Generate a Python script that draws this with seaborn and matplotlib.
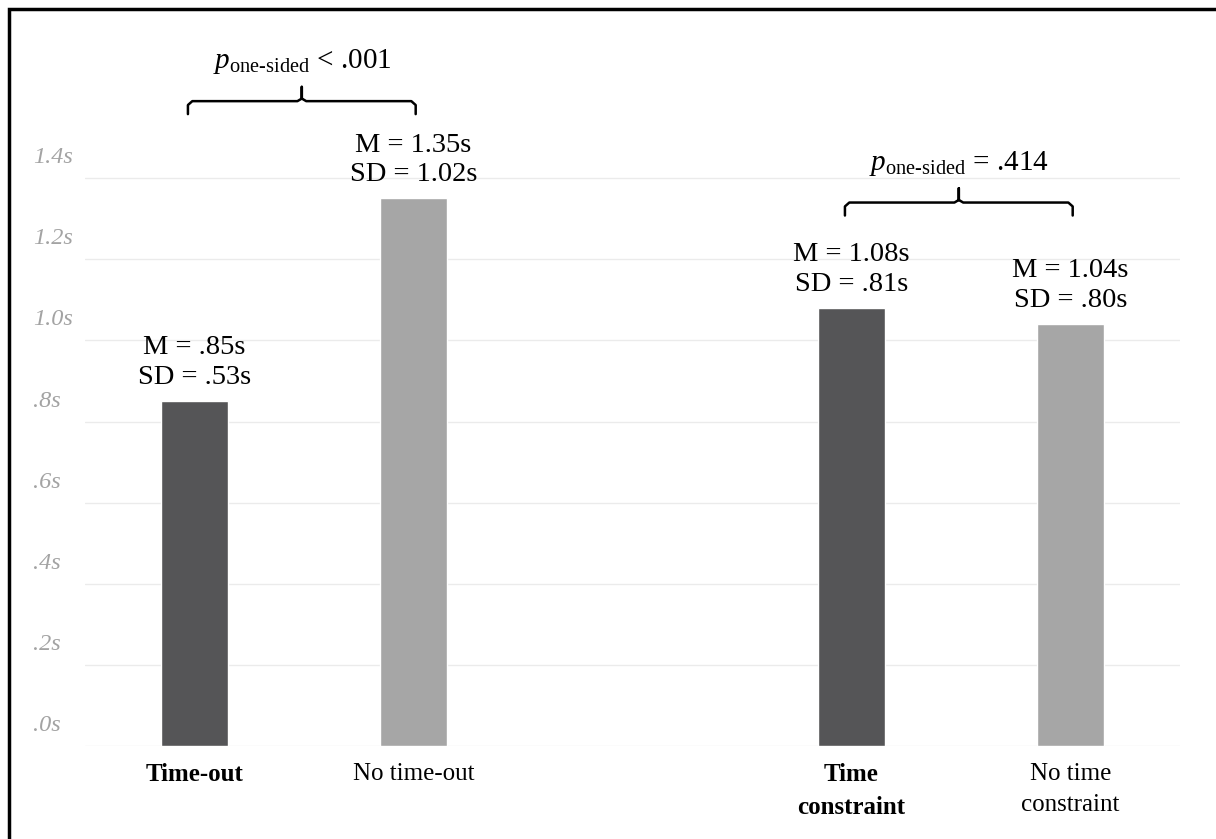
import numpy as np
import pandas as pd
import matplotlib
import matplotlib.pyplot as plt
import matplotlib.transforms as mtransforms
from matplotlib.patches import Rectangle
import seaborn as sns

sns.set_style('white')
plt.rcParams['font.family'] = ['Liberation Serif', 'DejaVu Serif']
plt.rcParams['text.color'] = 'black'
plt.rcParams['xtick.color'] = 'black'
matplotlib.rcParams['mathtext.fontset'] = 'custom'
matplotlib.rcParams['mathtext.rm'] = 'Liberation Serif'
matplotlib.rcParams['mathtext.it'] = 'Liberation Serif:italic'

# data
conditions = ['Time-out', 'No time-out', 'Time\nconstraint', 'No time\nconstraint']
means = [0.85, 1.35, 1.08, 1.04]
sds = [0.53, 1.02, 0.81, 0.80]
kind = ['treat', 'control', 'treat', 'control']
p_labels = [r'$p_{\mathrm{one\text{-}sided}}$ < .001', r'$p_{\mathrm{one\text{-}sided}}$ = .414']
tick_vals = [0, 0.2, 0.4, 0.6, 0.8, 1.0, 1.2, 1.4]
tick_labels = ['.0s', '.2s', '.4s', '.6s', '.8s', '1.0s', '1.2s', '1.4s']

spacer = ' '
order = conditions[:2] + [spacer] + conditions[2:]
df = pd.DataFrame({'condition': conditions, 'mean': means, 'sd': sds, 'kind': kind})

fig = plt.figure(figsize=(12.16, 8.39), dpi=100)
ax = fig.add_axes([0.0699, 0.1108, 0.9005, 0.846])

sns.barplot(data=df, x='condition', y='mean', hue='kind', order=order,
            palette={'treat': '#555557', 'control': '#a6a6a6'},
            width=0.31, dodge=False, errorbar=None, legend=False, ax=ax)

ax.set_xlim(-0.5, 4.5)
ax.set_ylim(0, 1.75)
ax.set_xlabel('')
ax.set_ylabel('')
sns.despine(ax=ax, left=True, bottom=True, top=True, right=True)

# grid
ax.set_yticks(tick_vals)
ax.set_yticklabels(tick_labels, fontsize=17.5, style='italic', color='#a3a3a3')
ax.grid(axis='y', color='#ebebeb', linewidth=1)
ax.set_axisbelow(True)
ax.tick_params(axis='y', length=0, pad=0)
for lab in ax.get_yticklabels():
    lab.set_horizontalalignment('left')
    lab.set_transform(lab.get_transform() + mtransforms.ScaledTranslation(-0.52, 0.23, fig.dpi_scale_trans))

# x tick labels
ax.tick_params(axis='x', length=0, pad=12)
for lab in ax.get_xticklabels():
    lab.set_fontsize(18)
    lab.set_linespacing(1.55)
    if lab.get_text() in ('Time-out', 'Time\nconstraint'):
        lab.set_fontweight('bold')

# value labels
pos = {c: order.index(c) for c in conditions}
for c, m, s in zip(conditions, means, sds):
    ms = ('%.2f' % m).lstrip('0')
    ss = ('%.2f' % s).lstrip('0')
    ax.annotate('M = %ss\nSD = %ss' % (ms, ss), (pos[c], m), xytext=(0, 8),
                textcoords='offset points', ha='center', va='bottom',
                fontsize=20.5, linespacing=1.25)


# braces
def brace(x0, x1, y, label):
    h = 0.032
    xm = (x0 + x1) / 2
    r = 0.02
    xs = [x0, x0, x0 + r, xm - r, xm, xm, xm, xm + r, x1 - r, x1, x1]
    ys = [y - h, y - h * 0.3, y, y, y + h * 0.2, y + h * 1.1, y + h * 0.2, y, y, y - h * 0.3, y - h]
    ax.plot(xs, ys, color='black', lw=1.8, solid_capstyle='round', clip_on=False)
    ax.text(xm, y + h * 1.9, label, ha='center', va='bottom', fontsize=21)


brace(pos[conditions[0]] - 0.03, pos[conditions[1]] + 0.01, means[1] + 0.24, p_labels[0])
brace(pos[conditions[2]] - 0.03, pos[conditions[3]] + 0.01, means[2] + 0.26, p_labels[1])

# frame around the figure
fig.patches.append(Rectangle((9 / 1216, -0.2), 1.2, 1.2 - 9 / 839, transform=fig.transFigure,
                             fill=False, edgecolor='black', linewidth=2.5, zorder=10))

fig.savefig('out.png', dpi=100)
